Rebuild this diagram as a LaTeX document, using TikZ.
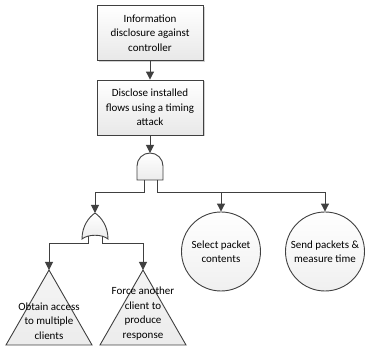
\documentclass[tikz,border=0pt]{standalone}
\usepackage{fontspec}
\setmainfont{Carlito}
\usetikzlibrary{arrows.meta,shadows}
\definecolor{ln}{HTML}{404040}
\tikzset{
  lbl/.style={align=center,font=\fontsize{11}{14.5}\selectfont,text=black,inner sep=0pt},
  box/.style={lbl,draw=ln,line width=0.9pt,top color=white,bottom color=gray!18,
    minimum width=106pt,minimum height=55pt,
    drop shadow={shadow xshift=1.5pt,shadow yshift=-1.5pt,fill=gray!45,opacity=0.8}},
  circ/.style={lbl,circle,draw=ln,line width=0.9pt,top color=white,bottom color=gray!12,minimum size=79pt},
  gate/.style={draw=ln,line width=0.9pt,top color=white,bottom color=gray!15},
  tri/.style={draw=ln,line width=0.9pt,top color=gray!8,bottom color=gray!15},
  wire/.style={draw=ln,line width=1pt},
  arr/.style={wire,-{Triangle[length=8pt,width=8pt]}},
}
\begin{document}
\begin{tikzpicture}[x=1pt,y=-1pt]
\useasboundingbox (0,0) rectangle (365,350);
% boxes
\node[box] (b1) at (150,33) {Information\\disclosure against\\controller};
\node[box] (b2) at (150,107.5) {Disclose installed\\flows using a timing\\attack};
% AND gate
\coordinate (andtop) at (150,153);
\coordinate (andL) at (144,180);
\coordinate (andR) at (157,180);
\draw[gate] (137,180) -- (137,166) arc[start angle=180,end angle=0,radius=13pt] -- (163,180) -- cycle;
% OR gate
\coordinate (ortop) at (95,213);
\coordinate (orL) at (88,236.5);
\coordinate (orR) at (102,236.5);
\draw[gate] (82,239) .. controls (82,226) and (89,217) .. (95,213)
  .. controls (101,217) and (108,226) .. (108,239)
  .. controls (102,234) and (88,234) .. (82,239) -- cycle;
% triangles
\coordinate (t1) at (49,270);
\coordinate (t2) at (143,270);
\draw[tri] (t1) -- (92,345) -- (6,345) -- cycle;
\draw[tri] (t2) -- (186,345) -- (100,345) -- cycle;
\node[lbl] (t1l) at (49,321) {Obtain access\\to multiple\\clients};
\node[lbl] (t2l) at (143,313.5) {Force another\\client to\\produce\\response};
% circles
\node[circ] (c1) at (221,251.5) {Select packet\\contents};
\node[circ] (c2) at (325,251.5) {Send packets \&\\measure time};
% connectors
\draw[arr] (b1.south) -- (b2.north);
\draw[arr] (b2.south) -- (andtop);
\draw[arr] (andL) -- ++(0,13) -| (ortop);
\draw[arr] (andR) -- ++(0,13) -| (c1.north);
\draw[arr] (andR) -- ++(0,13) -| (c2.north);
\draw[arr] (orL) -- (88,244) -| (t1);
\draw[arr] (orR) -- (102,244) -| (t2);
\end{tikzpicture}
\end{document}
